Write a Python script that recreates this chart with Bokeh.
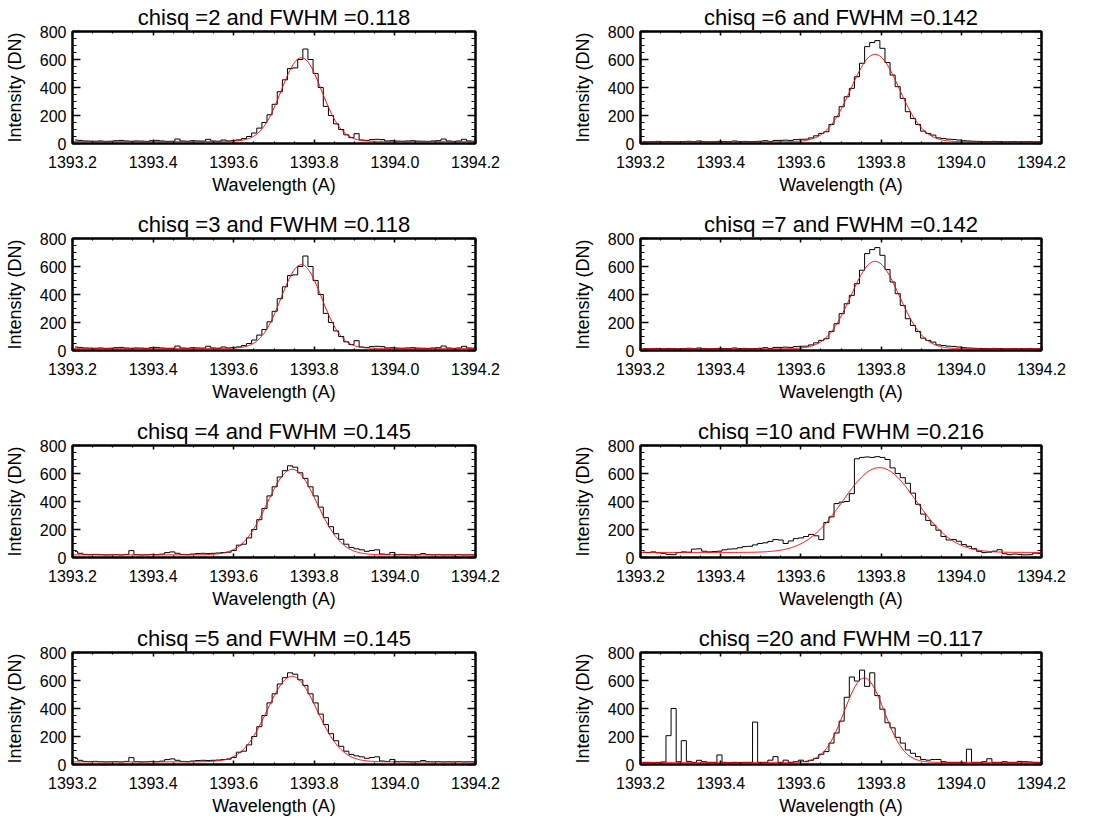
import numpy as np
from bokeh.plotting import figure
from bokeh.models import Range1d, LinearAxis, FixedTicker, PrintfTickFormatter, CustomJSTickFormatter
from bokeh.layouts import gridplot
from bokeh.embed import file_html
from bokeh.resources import INLINE

# ---------------- data ----------------
wl_start = 1393.2064      # first pixel centre (A)
dispersion = 0.0127       # A per pixel
n_pix = 79

x_ticks = [1393.2, 1393.4, 1393.6, 1393.8, 1394.0, 1394.2]
y_ticks = [0, 200, 400, 600, 800]

spec_a = [25, 22, 18, 17, 16, 18, 15, 16, 20, 22, 18, 16, 18, 17, 15, 20, 22, 18, 15, 16, 32, 18, 16, 20, 18, 17, 30, 18, 16, 25, 18,
          22, 26, 35, 50, 75, 110, 150, 205, 280, 370, 455, 535, 540, 600, 675, 600, 500, 400, 265, 200, 140, 100, 62, 42, 70, 25,
          22, 28, 30, 28, 18, 20, 17, 16, 18, 20, 17, 16, 15, 18, 20, 32, 18, 15, 18, 30, 18, 16]
spec_b = [14, 12, 13, 15, 12, 14, 13, 12, 14, 16, 13, 18, 14, 12, 13, 15, 14, 13, 18, 14, 15, 13, 14, 16, 20, 15, 22, 22, 24,
          22, 28, 30, 31, 40, 55, 72, 84, 136, 191, 263, 334, 394, 477, 573, 692, 721, 735, 680, 578, 489, 406, 322, 227, 179,
          136, 88, 72, 60, 40, 36, 31, 29, 25, 20, 18, 16, 15, 14, 13, 15, 14, 12, 13, 14, 12, 13, 14, 12, 13]
spec_c = [44, 30, 22, 20, 22, 20, 18, 19, 20, 18, 22, 49, 20, 18, 19, 22, 20, 24, 35, 40, 30, 22, 20, 25, 28, 30, 28, 30, 32, 35,
          38, 50, 88, 95, 140, 200, 270, 350, 440, 505, 575, 620, 655, 645, 605, 565, 505, 440, 360, 285, 220, 170, 130, 95, 72,
          62, 55, 44, 50, 55, 25, 22, 36, 20, 22, 20, 18, 20, 28, 20, 19, 20, 18, 19, 18, 20, 18, 19, 18]
spec_d = [38, 35, 40, 33, 30, 22, 20, 35, 40, 38, 60, 62, 45, 40, 42,
          45, 55, 60, 62, 70, 78, 80, 90, 100, 105, 115, 128, 125, 100, 118, 135, 140, 150, 165, 155, 128, 250, 290, 385, 395,
          400, 456, 705, 715, 718, 715, 720,
          715, 700, 640, 600, 570, 530, 460, 380, 310, 265, 230, 195, 150, 125, 128, 116, 92, 80, 63, 44, 35, 38, 45, 56, 27,
          20, 25, 22, 19, 20, 31, 28]
spec_e = [15, 15, 12, 15, 18, 206, 400, 20, 170, 22, 15, 30, 20, 15, 15, 68, 15, 12, 15, 14, 15, 15, 303, 15, 15, 31, 56, 15,
          31, 15, 20, 31, 20, 30, 44, 73, 92, 153, 225, 310, 480, 625, 596, 674, 558, 655, 492, 395, 298, 262, 194, 153, 104,
          80, 56, 36, 31, 36, 36, 20, 15, 15, 15, 15, 109, 15, 15, 20, 41, 15, 15, 20, 15, 15, 22, 20, 18, 15, 15]

# panels in reading order (row by row, left then right)
chisq_vals = [2, 6, 3, 7, 4, 10, 5, 20]
fwhm_vals = [0.118, 0.142, 0.118, 0.142, 0.145, 0.216, 0.145, 0.117]
spectra = [spec_a, spec_b, spec_a, spec_b, spec_c, spec_d, spec_c, spec_e]
fit_center = [1393.768, 1393.785, 1393.768, 1393.785, 1393.745, 1393.796, 1393.745, 1393.758]
fit_amp = [598, 625, 598, 625, 611, 606, 611, 603]
fit_bg = [15, 12, 15, 12, 19, 36, 19, 15]

wavelength = wl_start + dispersion * np.arange(n_pix)
FONT = "Liberation Sans"
BLANK = CustomJSTickFormatter(code="return ''")


def style_axis(ax, is_x, show_labels):
    ax.axis_line_width = 2
    ax.axis_line_color = "black"
    ax.major_tick_out = 0
    ax.minor_tick_out = 0
    ax.major_tick_line_width = 1.5
    ax.minor_tick_line_width = 1.2
    if is_x:
        ax.major_tick_in = 4
        ax.minor_tick_in = 2
        ax.ticker = FixedTicker(ticks=x_ticks, minor_ticks=list(np.arange(1393.2, 1394.2001, 0.05)))
        if show_labels:
            ax.formatter = PrintfTickFormatter(format="%.1f")
    else:
        ax.major_tick_in = 8
        ax.minor_tick_in = 4
        ax.ticker = FixedTicker(ticks=y_ticks, minor_ticks=list(np.arange(0, 801, 50)))
    if show_labels:
        ax.major_label_text_font = FONT
        ax.major_label_text_font_size = "16px"
        ax.major_label_text_color = "black"
        ax.axis_label_text_font = FONT
        ax.axis_label_text_font_size = "18px"
        ax.axis_label_text_font_style = "normal"
        ax.axis_label_text_color = "black"
    else:
        ax.formatter = BLANK
        ax.major_label_standoff = 0


def make_panel(k):
    left_col = (k % 2 == 0)
    p = figure(frame_width=403 if left_col else 401, frame_height=112,
               x_range=Range1d(1393.2, 1394.2), y_range=Range1d(0, 800),
               output_backend="svg", toolbar_location=None, tools="",
               min_border_left=72 if left_col else 86,
               min_border_right=79 if left_col else 65,
               min_border_top=31, min_border_bottom=64)
    p.grid.visible = False
    p.outline_line_color = "black"
    p.outline_line_width = 2
    p.background_fill_color = "white"
    p.border_fill_color = "white"

    p.title.text = "chisq =%d and FWHM =%.3f" % (chisq_vals[k], fwhm_vals[k])
    p.title.align = "center"
    p.title.text_font = FONT
    p.title.text_font_size = "22px"
    p.title.text_font_style = "normal"
    p.title.text_color = "black"
    p.title.standoff = 3

    p.xaxis.axis_label = "Wavelength (A)"
    p.yaxis.axis_label = "Intensity (DN)"
    style_axis(p.xaxis[0], True, True)
    style_axis(p.yaxis[0], False, True)
    p.xaxis.major_label_standoff = 12
    p.xaxis.axis_label_standoff = 4
    p.yaxis.major_label_standoff = 6
    p.yaxis.axis_label_standoff = 12

    top = LinearAxis()
    style_axis(top, True, False)
    p.add_layout(top, "above")
    right = LinearAxis()
    style_axis(right, False, False)
    p.add_layout(right, "right")

    p.step(x=wavelength, y=spectra[k], mode="center", line_color="black", line_width=1)

    fine = np.linspace(1393.2, 1394.2, 500)
    sigma = fwhm_vals[k] / 2.3548
    fit = fit_bg[k] + fit_amp[k] * np.exp(-0.5 * ((fine - fit_center[k]) / sigma) ** 2)
    p.line(x=fine, y=fit, line_color="red", line_width=1)
    return p


panels = [make_panel(k) for k in range(8)]
grid = gridplot([panels[0:2], panels[2:4], panels[4:6], panels[6:8]], toolbar_location=None)

open("out.html", "w").write(file_html(grid, INLINE))
